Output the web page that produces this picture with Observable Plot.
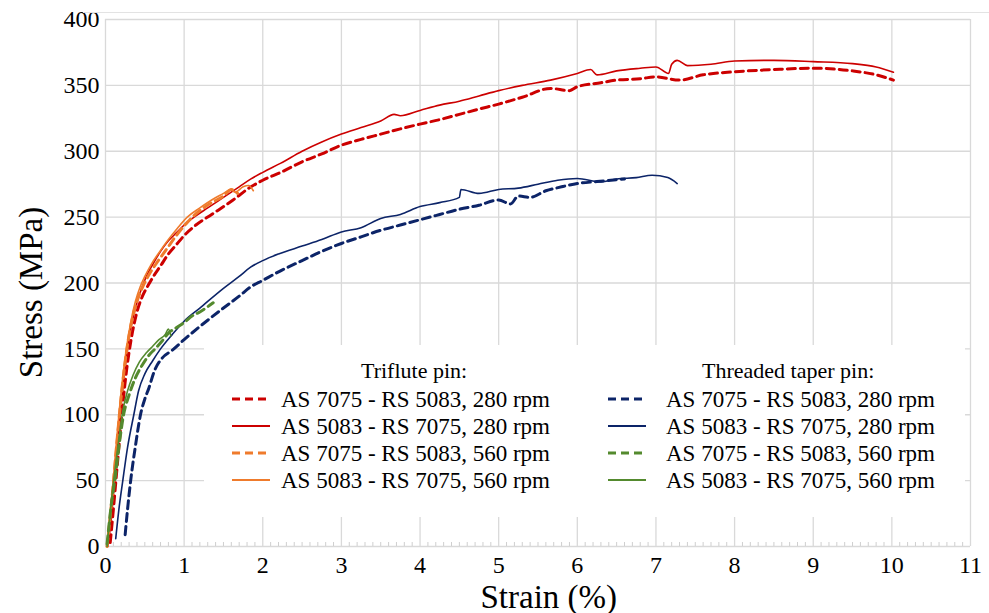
<!DOCTYPE html>
<html>
<head>
<meta charset="utf-8">
<script src="https://cdn.jsdelivr.net/npm/d3@7"></script>
<script src="https://cdn.jsdelivr.net/npm/@observablehq/plot@0.6"></script>
<style>
  html, body { margin: 0; padding: 0; background: #fff; }
  #wrap { position: relative; width: 989px; height: 613px; overflow: hidden; font-family: "Liberation Serif", "Times New Roman", serif; }
  #wrap svg text, #wrap svg g[aria-label$="tick label"] { font-family: "Liberation Serif", "Times New Roman", serif !important; }
  #wrap svg g[aria-label$="tick label"] { font-size: 24px; }
  #legend { position: absolute; left: 204px; top: 345px; width: 761px; height: 172px; background: #fff; }
  .hdr { position: absolute; font-size: 22px; color: #000; white-space: nowrap; line-height: 1; }
  .item { position: absolute; font-size: 23px; color: #000; white-space: nowrap; line-height: 1; }
  .title { position: absolute; font-size: 33px; color: #000; white-space: nowrap; line-height: 1; }
  #topline { position: absolute; left: 83px; top: 12px; width: 906px; height: 1px; background: #e3e3e3; }
</style>
</head>
<body>
<div id="wrap"><div id="topline"></div></div>
<script>
// ---- Data ----
const xTicks = [0,1,2,3,4,5,6,7,8,9,10,11];
const yTicks = [0,50,100,150,200,250,300,350,400];
const xTitle = "Strain (%)";
const yTitle = "Stress (MPa)";
const legendHeaders = ["Triflute pin:", "Threaded taper pin:"];

// Triflute pin
const triA7075_280_strain = [0.06,0.1,0.15,0.2,0.26,0.32,0.4,0.47,0.55,0.62,0.7,0.8,0.9,1.0,1.15,1.35,1.6,1.85,2.0,2.23,2.5,2.75,3.0,3.25,3.5,3.75,4.0,4.25,4.5,4.75,5.0,5.3,5.66,5.9,6.0,6.3,6.5,6.8,7.0,7.3,7.6,8.0,8.5,9.0,9.5,9.8,10.02];
const triA7075_280_stress = [3,28,62,95,130,155,178,190,199,206,213,222,229,236,244,252,262,273,278,284,292,298,304.6,309,313,317,320.6,324,328,332,335.8,341,347.7,346,349,352,354,355,356.5,354,358,360.3,362,363,361,358,354];

const triA5083_280_strain = [0.03,0.08,0.13,0.2,0.27,0.33,0.4,0.46,0.52,0.6,0.7,0.8,0.9,1.0,1.15,1.3,1.5,1.7,1.85,2.0,2.23,2.5,2.75,3.0,3.25,3.5,3.67,3.75,4.0,4.25,4.5,4.75,5.0,5.3,5.66,6.0,6.17,6.25,6.5,6.8,7.0,7.16,7.2,7.27,7.4,7.7,8.0,8.5,9.0,9.5,9.8,10.02];
const triA5083_280_stress = [0,25,62,108,145,168,185,196,205,214,224,232,238,244,251,257,265,273,279,284,291,300,307,313,318,323,328,327,331,335,338,342,346,350,354,359,362,358,361,363,364,359,366,369,365,366,368.5,369,368,366.5,364,360];

const triA7075_560_strain = [0.02,0.08,0.14,0.2,0.26,0.32,0.4,0.48,0.56,0.66,0.78,0.9,1.04,1.2,1.35,1.5,1.6,1.68];
const triA7075_560_stress = [0,35,76,114,145,167,186,198,207,216,226,236,246,255,261,266,271,268];

const triA5083_560_strain = [0.02,0.08,0.14,0.2,0.26,0.32,0.38,0.44,0.5,0.58,0.68,0.8,0.92,1.04,1.2,1.35,1.5,1.59,1.65,1.75,1.82,1.88];
const triA5083_560_stress = [0,38,80,118,148,170,186,197,205,214,223,233,242,250,257,263,268,271,269,273,274,270];

// Threaded taper pin
const thrA7075_280_strain = [0.25,0.28,0.32,0.38,0.445,0.5,0.55,0.62,0.72,0.85,1.0,1.2,1.5,1.7,1.845,2.0,2.25,2.5,2.75,3.0,3.25,3.5,3.75,4.0,4.25,4.5,4.75,5.0,5.15,5.25,5.4,5.6,5.8,6.0,6.25,6.6];
const thrA7075_280_stress = [9,28,50,76,100,112,120,133,143,149,157,167,181,190,197,202,210,217,224,230,235,240,244,248,252,256,259,263,260,266,265,270,273,275.5,277,279];

const thrA5083_280_strain = [0.13,0.17,0.22,0.28,0.36,0.42,0.5,0.6,0.7,0.85,1.0,1.2,1.5,1.7,1.845,2.0,2.2,2.5,2.75,3.0,3.25,3.5,3.75,4.0,4.25,4.5,4.52,4.75,5.0,5.25,5.5,5.75,6.0,6.3,6.5,6.75,6.95,7.15,7.27];
const thrA5083_280_stress = [6,28,50,75,100,118,131,141,150,161,171,181,196,205,212,217,222,228,233,238.7,242,249,252,258,261,265,271,268,271,272,275,278,279.3,276.7,279,280,281.8,280,275.5];

const thrA7075_560_strain = [0.02,0.07,0.13,0.18,0.23,0.3,0.38,0.46,0.55,0.63,0.72,0.8,0.9,1.0,1.1,1.2,1.3,1.37];
const thrA7075_560_stress = [2,30,55,80,100,115,128,137,145,150,156,162,166,170,175,178,182,185];

const thrA5083_560_strain = [0.02,0.07,0.12,0.17,0.22,0.28,0.35,0.43,0.52,0.6,0.68,0.76,0.8,0.83];
const thrA5083_560_stress = [0,32,58,82,103,118,130,140,147,152,157,161,165,160];

const seriesNames = [
  "AS 7075 - RS 5083, 280 rpm",
  "AS 5083 - RS 7075, 280 rpm",
  "AS 7075 - RS 5083, 560 rpm",
  "AS 5083 - RS 7075, 560 rpm"
];

const RED = "#cc0000", ORANGE = "#ef7b2c", NAVY = "#0c2468", GREEN = "#548a2e";

// draw order: bottom first
const series = [
  {pin: "thr", name: seriesNames[0], s: thrA7075_280_strain, v: thrA7075_280_stress, color: NAVY, dashed: true},
  {pin: "thr", name: seriesNames[1], s: thrA5083_280_strain, v: thrA5083_280_stress, color: NAVY, dashed: false},
  {pin: "tri", name: seriesNames[0], s: triA7075_280_strain, v: triA7075_280_stress, color: RED, dashed: true},
  {pin: "tri", name: seriesNames[1], s: triA5083_280_strain, v: triA5083_280_stress, color: RED, dashed: false},
  {pin: "tri", name: seriesNames[2], s: triA7075_560_strain, v: triA7075_560_stress, color: ORANGE, dashed: true},
  {pin: "tri", name: seriesNames[3], s: triA5083_560_strain, v: triA5083_560_stress, color: ORANGE, dashed: false},
  {pin: "thr", name: seriesNames[3], s: thrA5083_560_strain, v: thrA5083_560_stress, color: GREEN, dashed: false},
  {pin: "thr", name: seriesNames[2], s: thrA7075_560_strain, v: thrA7075_560_stress, color: GREEN, dashed: true}
];

const minorTicks = d3.range(1, 110).map(i => i / 10).filter((d, i) => (i + 1) % 10 !== 0);

const lineMarks = series.map(sr => {
  const rows = sr.s.map((x, i) => ({strain: x, stress: sr.v[i]}));
  return Plot.line(rows, {
    x: "strain", y: "stress", stroke: sr.color,
    strokeWidth: sr.dashed ? 3 : 1.6,
    strokeDasharray: sr.dashed ? "8,5" : null,
    strokeLinejoin: "round",
    curve: "monotone-x"
  });
});

const chart = Plot.plot({
  width: 989, height: 613,
  marginLeft: 105, marginRight: 19, marginTop: 19, marginBottom: 67,
  x: {domain: [0, 11]},
  y: {domain: [0, 400]},
  style: {fontFamily: "Liberation Serif, Times New Roman, serif", color: "#000", background: "#fff"},
  marks: [
    Plot.gridX(xTicks, {stroke: "#d9d9d9", strokeOpacity: 1, strokeWidth: 1.3}),
    Plot.gridY(yTicks, {stroke: "#d9d9d9", strokeOpacity: 1, strokeWidth: 1.3}),
    Plot.tickX(minorTicks, {x: d => d, stroke: "#cfcfcf", insetTop: 523, strokeWidth: 1}),
    Plot.axisX(xTicks, {tickSize: 0, tickPadding: 9, fontSize: 24, label: null, tickFormat: d => String(d)}),
    Plot.axisY(yTicks, {tickSize: 0, tickPadding: 6, fontSize: 24, label: null, tickFormat: d => String(d)}),
    ...lineMarks
  ]
});

const wrap = document.getElementById("wrap");
wrap.insertBefore(chart, wrap.firstChild);

// ---- Axis titles ----
function addTitle(text, cx, cy, rotate) {
  const t = document.createElement("div");
  t.className = "title";
  t.textContent = text;
  wrap.appendChild(t);
  const w = t.offsetWidth, h = t.offsetHeight;
  t.style.left = (cx - w / 2) + "px";
  t.style.top = (cy - h / 2) + "px";
  if (rotate) t.style.transform = "rotate(-90deg)";
}
addTitle(xTitle, 549, 597, false);
addTitle(yTitle, 31, 292, true);

// ---- Legend ----
const legend = document.createElement("div");
legend.id = "legend";
wrap.appendChild(legend);

function addHeader(text, cx, cy) {
  const h = document.createElement("div");
  h.className = "hdr";
  h.textContent = text;
  legend.appendChild(h);
  h.style.left = (cx - h.offsetWidth / 2) + "px";
  h.style.top = (cy - h.offsetHeight / 2) + "px";
}
function addItem(sr, lx, tx, cy) {
  const ns = "http://www.w3.org/2000/svg";
  const svg = document.createElementNS(ns, "svg");
  svg.setAttribute("width", 42); svg.setAttribute("height", 10);
  svg.style.position = "absolute";
  svg.style.left = lx + "px"; svg.style.top = (cy - 5) + "px";
  const ln = document.createElementNS(ns, "line");
  ln.setAttribute("x1", 0); ln.setAttribute("x2", 38);
  ln.setAttribute("y1", 5); ln.setAttribute("y2", 5);
  ln.setAttribute("stroke", sr.color);
  ln.setAttribute("stroke-width", sr.dashed ? 3 : 2);
  if (sr.dashed) ln.setAttribute("stroke-dasharray", "8,5");
  svg.appendChild(ln);
  legend.appendChild(svg);
  const t = document.createElement("div");
  t.className = "item";
  t.textContent = sr.name;
  legend.appendChild(t);
  t.style.left = tx + "px";
  t.style.top = (cy - t.offsetHeight / 2) + "px";
}
// header positions relative to legend box (left 204, top 345)
addHeader(legendHeaders[0], 414 - 204, 371 - 345);
addHeader(legendHeaders[1], 788 - 204, 371 - 345);
const rowY = [399, 426, 453, 480].map(y => y - 345);
const tri = seriesNames.map(n => series.find(s => s.pin === "tri" && s.name === n));
const thr = seriesNames.map(n => series.find(s => s.pin === "thr" && s.name === n));
tri.forEach((sr, i) => addItem(sr, 232 - 204, 281 - 204, rowY[i]));
thr.forEach((sr, i) => addItem(sr, 608 - 204, 666 - 204, rowY[i]));
</script>
</body>
</html>
